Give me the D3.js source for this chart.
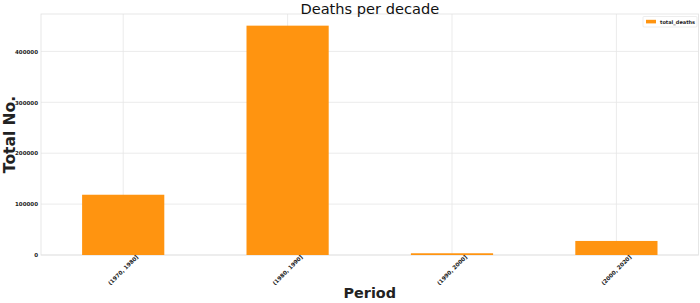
<!DOCTYPE html>
<html><head><meta charset="utf-8">
<script src="https://cdn.jsdelivr.net/npm/d3@7/dist/d3.min.js"></script>
<style>body{margin:0;background:#fff}svg{display:block}text{font-family:"DejaVu Sans",sans-serif}</style>
</head><body>
<svg id="c" width="700" height="303"></svg>
<script>
const categories = ["(1970, 1980]", "(1980, 1990]", "(1990, 2000]", "(2000, 2020]"];
const totalDeaths = [118400, 450600, 3400, 27600];
const yTicks = [0, 100000, 200000, 300000, 400000];
const seriesName = "total_deaths";

const svg = d3.select("#c");
const m = {l: 41, r: 1.4, t: 14, b: 48};
const W = 700, H = 303;
const x = d3.scaleBand().domain(categories).range([m.l, W - m.r]).paddingInner(0.5).paddingOuter(0.25);
const y = d3.scaleLinear().domain([0, 473500]).range([H - m.b, m.t]);

const grid = "#e6e6e6";
svg.append("g").selectAll("line").data(yTicks).join("line")
  .attr("x1", m.l).attr("x2", W - m.r).attr("y1", d => y(d)).attr("y2", d => y(d))
  .attr("stroke", grid).attr("stroke-width", 0.8);
svg.append("g").selectAll("line").data(categories).join("line")
  .attr("x1", d => x(d) + x.bandwidth() / 2).attr("x2", d => x(d) + x.bandwidth() / 2)
  .attr("y1", m.t).attr("y2", H - m.b)
  .attr("stroke", grid).attr("stroke-width", 0.8);
svg.append("rect").attr("x", m.l).attr("y", m.t).attr("width", W - m.r - m.l).attr("height", H - m.b - m.t)
  .attr("fill", "none").attr("stroke", "#e0e0e0").attr("stroke-width", 0.8);

svg.append("g").selectAll("rect").data(categories).join("rect")
  .attr("x", d => x(d)).attr("width", x.bandwidth())
  .attr("y", (d, i) => y(totalDeaths[i])).attr("height", (d, i) => y(0) - y(totalDeaths[i]))
  .attr("fill", "#ff9410");

const ya = svg.append("g").attr("transform", `translate(${m.l},0)`)
  .call(d3.axisLeft(y).tickValues(yTicks).tickSize(0).tickPadding(3).tickFormat(d3.format("d")));
ya.select(".domain").remove();
ya.selectAll("text").attr("font-size", 5.5).attr("font-weight", "bold").attr("fill", "#222")
  .style("font-family", "DejaVu Sans");

const xa = svg.append("g").attr("transform", `translate(0,${H - m.b})`)
  .call(d3.axisBottom(x).tickSize(0).tickPadding(0));
xa.select(".domain").remove();
xa.selectAll("text").attr("font-size", 5.5).attr("font-weight", "bold").attr("fill", "#222")
  .style("font-family", "DejaVu Sans")
  .attr("text-anchor", "middle").attr("dy", null).attr("y", 0)
  .attr("transform", "translate(0,15) rotate(-45)").attr("dominant-baseline", "central");

svg.append("text").attr("x", (m.l + W - m.r) / 2).attr("y", 13.5).attr("text-anchor", "middle")
  .attr("font-size", 14.6).attr("fill", "#111").text("Deaths per decade");
svg.append("text").attr("x", (m.l + W - m.r) / 2).attr("y", 298).attr("text-anchor", "middle")
  .attr("font-size", 14.4).attr("font-weight", "bold").attr("fill", "#222").text("Period");
svg.append("text").attr("transform", `translate(15,${(m.t + H - m.b) / 2}) rotate(-90)`).attr("text-anchor", "middle")
  .attr("font-size", 15.5).attr("font-weight", "bold").attr("fill", "#222").text("Total No.");

const lg = svg.append("g");
lg.append("rect").attr("x", 643).attr("y", 16.5).attr("width", 54).attr("height", 10.5)
  .attr("fill", "#fff").attr("stroke", "#e0e0e0").attr("stroke-width", 0.6).attr("rx", 1);
lg.append("rect").attr("x", 646).attr("y", 19.8).attr("width", 10).attr("height", 3.6).attr("fill", "#ff9410");
lg.append("text").attr("x", 660).attr("y", 21.8).attr("dominant-baseline", "central")
  .attr("font-size", 5).attr("font-weight", "bold").attr("fill", "#222").text(seriesName);
</script>
</body></html>
